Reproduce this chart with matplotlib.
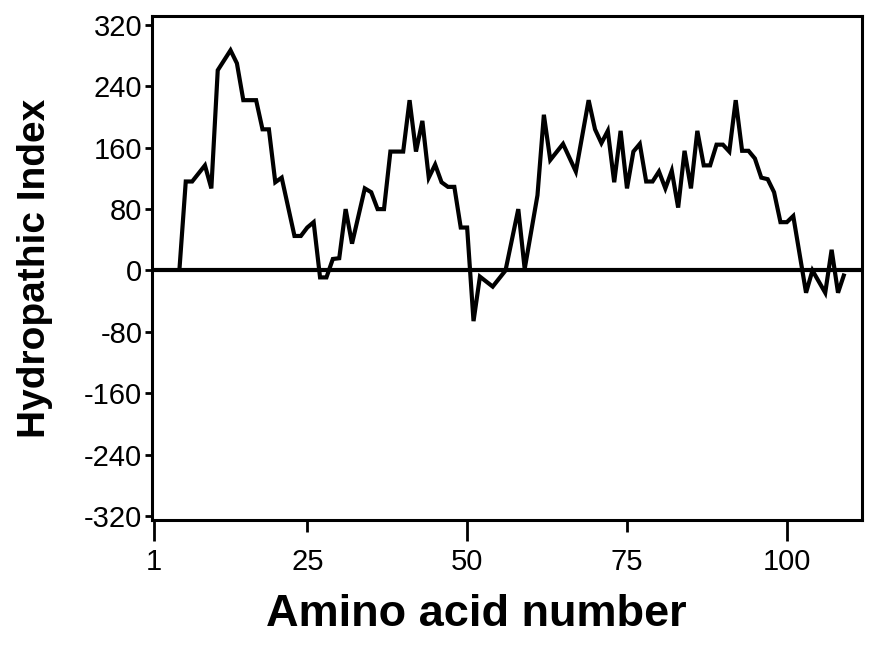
import numpy as np
import matplotlib.pyplot as plt

# hydropathy profile (vertices of the trace)
residue = [5, 6, 7, 9, 10, 11, 13, 14, 15, 17, 18, 19, 20, 21, 23, 24, 25, 26,
           27, 28, 29, 30, 31, 32, 34, 35, 36, 37, 38, 40, 41, 42, 43, 44, 45,
           46, 47, 48, 49, 50, 51, 52, 54, 56, 58, 59, 61, 62, 63, 65, 67, 69,
           70, 71, 72, 73, 74, 75, 76, 77, 78, 79, 80, 81, 82, 83, 84, 85, 86,
           87, 88, 89, 90, 91, 92, 93, 94, 95, 96, 97, 98, 99, 100, 101, 103,
           104, 106, 107, 108, 109]
hydropathy = [0, 116, 116, 137, 107, 261, 287, 270, 222, 222, 184, 184, 115,
              121, 45, 45, 56, 63, -9, -9, 15, 16, 80, 35, 107, 102, 80, 80,
              155, 155, 222, 155, 195, 121, 138, 115, 109, 109, 56, 56, -66,
              -8, -21, 0, 80, 2, 98, 203, 144, 165, 129, 222, 184, 166, 182,
              115, 182, 107, 155, 165, 116, 116, 129, 107, 130, 82, 156, 107,
              182, 137, 137, 164, 164, 155, 222, 156, 156, 146, 121, 119, 102,
              63, 63, 71, -29, 0, -29, 27, -29, -4]

yticks = [-320, -240, -160, -80, 0, 80, 160, 240, 320]
xmajor = [1, 50, 100]
xminor = [25, 75]

font = ['Liberation Sans', 'DejaVu Sans']

fig = plt.figure(figsize=(8.69, 6.47), dpi=100)
ax = fig.add_axes([152 / 869, 1 - 520 / 647, 710 / 869, 504 / 647])

ax.axhline(0, color='black', lw=3)
ax.plot(residue, hydropathy, color='black', lw=3,
        solid_joinstyle='miter', solid_capstyle='butt')

ax.set_xlim(0.72, 111.75)
ax.set_ylim(-325.2, 331.7)

ax.set_yticks(yticks)
ax.set_yticklabels([str(v) for v in yticks])
ax.set_xticks(xmajor)
ax.set_xticklabels([str(v) for v in xmajor])
ax.set_xticks(xminor, minor=True)
ax.set_xticklabels([str(v) for v in xminor], minor=True)

for s in ax.spines.values():
    s.set_linewidth(2.2)

ax.tick_params(axis='y', direction='out', length=5, width=2, pad=2)
ax.tick_params(axis='x', which='major', direction='out', length=15, width=2, pad=5)
ax.tick_params(axis='x', which='minor', direction='out', length=8.5, width=2, pad=11.5)

for lab in ax.get_xticklabels() + ax.get_xticklabels(minor=True) + ax.get_yticklabels():
    lab.set_family(font)
    lab.set_fontsize(21)

fig.text(476 / 869, 1 - 614 / 647, 'Amino acid number', ha='center', va='center',
         fontsize=32.5, fontweight='bold', family=font)
fig.text(35 / 869, 1 - 268 / 647, 'Hydropathic Index', ha='center', va='center',
         rotation=90, fontsize=28, fontweight='bold', family=font)

fig.savefig('out.png', dpi=100)
